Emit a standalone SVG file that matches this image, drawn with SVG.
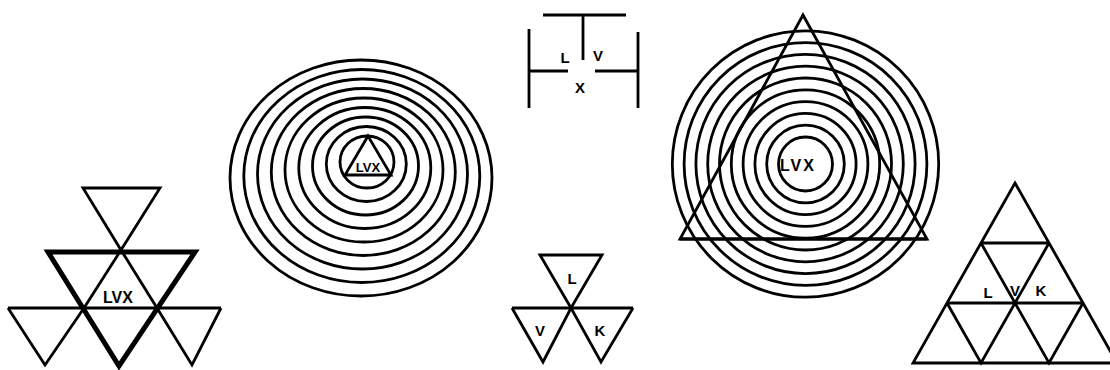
<svg xmlns="http://www.w3.org/2000/svg" width="1110" height="370" viewBox="0 0 1110 370">
<style>
.ln{fill:none;stroke:#000;stroke-width:2.8;stroke-linejoin:miter;stroke-linecap:butt}
.bold{stroke-width:5}
.ring{fill:none;stroke:#000;stroke-width:2.8}
.lbl{font-family:"Liberation Sans",Arial,sans-serif;font-weight:bold;fill:#000;text-anchor:middle}
</style>
<rect width="1110" height="370" fill="#fff"/>

<g id="triangles-left">
  <polygon class="ln" points="83,188 160,188 121,250"/>
  <line class="ln" x1="121" y1="250" x2="157" y2="308"/>
  <line class="ln" x1="121" y1="250" x2="84" y2="308"/>
  <line class="ln" x1="8" y1="308" x2="221" y2="308"/>
  <polyline class="ln" points="8,308 45,365 84,308"/>
  <polyline class="ln" points="157,308 192,365 221,308"/>
  <polygon class="ln bold" points="48,252 195,252 119,366"/>
  <text class="lbl" x="118" y="303" font-size="16">LVX</text>
</g>

<g id="circles-left">
  <ellipse class="ring" cx="367" cy="162" rx="27" ry="26"/>
  <ellipse class="ring" cx="366.3" cy="164" rx="40" ry="37.5"/>
  <ellipse class="ring" cx="365.5" cy="166" rx="53" ry="49"/>
  <ellipse class="ring" cx="364.8" cy="168" rx="66" ry="60.5"/>
  <ellipse class="ring" cx="364" cy="170" rx="79" ry="72"/>
  <ellipse class="ring" cx="363.3" cy="172" rx="92" ry="83.5"/>
  <ellipse class="ring" cx="362.5" cy="174" rx="105" ry="95"/>
  <ellipse class="ring" cx="361.8" cy="176" rx="118" ry="106.5"/>
  <ellipse class="ring" cx="361" cy="178" rx="131" ry="118"/>
  <polygon class="ln" stroke-width="3.2" points="368,136 345,175 391,175"/>
  <text class="lbl" x="368" y="172" font-size="13">LVX</text>
</g>

<g id="cross-figure">
  <line class="ln" stroke-width="3.5" x1="543" y1="15" x2="626" y2="15"/>
  <line class="ln" stroke-width="3.5" x1="583" y1="15" x2="583" y2="60"/>
  <line class="ln" stroke-width="3.5" x1="529" y1="29" x2="529" y2="108"/>
  <line class="ln" stroke-width="3.5" x1="638" y1="32" x2="638" y2="108"/>
  <line class="ln" stroke-width="3.5" x1="529" y1="71" x2="568" y2="71"/>
  <line class="ln" stroke-width="3.5" x1="595" y1="71" x2="638" y2="71"/>
  <text class="lbl" x="565" y="63" font-size="15">L</text>
  <text class="lbl" x="598" y="61" font-size="15">V</text>
  <text class="lbl" x="580" y="93" font-size="15">X</text>
</g>

<g id="three-triangles">
  <polygon class="ln" stroke-width="3" points="540,255 602,255 571,308"/>
  <line class="ln" stroke-width="3" x1="512" y1="308" x2="633" y2="308"/>
  <polyline class="ln" stroke-width="3" points="512,308 543,362 571,308 601,362 633,308"/>
  <text class="lbl" x="572" y="284" font-size="15">L</text>
  <text class="lbl" x="540" y="336" font-size="15">V</text>
  <text class="lbl" x="600" y="336" font-size="15">K</text>
</g>

<g id="circles-right">
  <circle class="ring" cx="805.5" cy="164" r="27"/>
  <circle class="ring" cx="805.5" cy="164" r="38.8"/>
  <circle class="ring" cx="805.5" cy="164" r="50.6"/>
  <circle class="ring" cx="805.5" cy="164" r="62.4"/>
  <circle class="ring" cx="805.5" cy="164" r="74.2"/>
  <circle class="ring" cx="805.5" cy="164" r="86"/>
  <circle class="ring" cx="805.5" cy="164" r="97.8"/>
  <circle class="ring" cx="805.5" cy="164" r="109.6"/>
  <circle class="ring" cx="805.5" cy="164" r="121.4"/>
  <circle class="ring" cx="805.5" cy="164" r="133.2"/>
  <polygon class="ln" stroke-width="3" points="803,15 927,239 680,239"/>
  <line class="ln" stroke-width="4.5" x1="680" y1="239" x2="927" y2="239"/>
  <text class="lbl" x="798" y="171" font-size="16" letter-spacing="2">LVX</text>
</g>

<g id="triangle-grid">
  <polygon class="ln" stroke-width="3" points="1015,183 1117,363 913,363"/>
  <line class="ln" stroke-width="3" x1="981" y1="243" x2="1049" y2="243"/>
  <line class="ln" stroke-width="3" x1="947" y1="303" x2="1083" y2="303"/>
  <polyline class="ln" stroke-width="3" points="981,243 1015,303 1049,243"/>
  <polyline class="ln" stroke-width="3" points="947,303 981,363 1015,303 1049,363 1083,303"/>
  <text class="lbl" x="988" y="298" font-size="15">L</text>
  <text class="lbl" x="1015" y="296" font-size="15">V</text>
  <text class="lbl" x="1041" y="296" font-size="15">K</text>
</g>
</svg>
